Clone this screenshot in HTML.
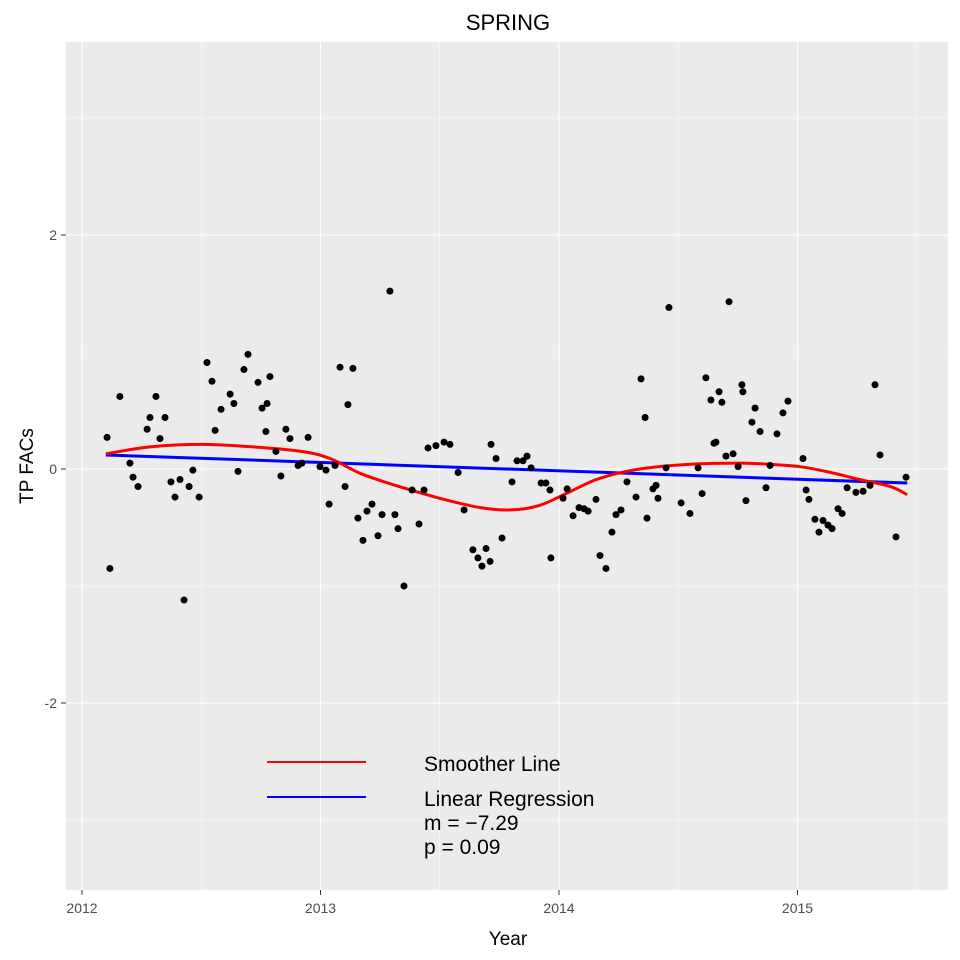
<!DOCTYPE html>
<html><head><meta charset="utf-8"><style>
body{margin:0;background:#fff}
svg{display:block;font-family:"Liberation Sans",Arial,sans-serif}
</style></head><body>
<svg id="chart" width="960" height="960" xmlns="http://www.w3.org/2000/svg">
<text x="508" y="30" font-size="22" text-anchor="middle">SPRING</text>
<rect x="66" y="42" width="882" height="848" fill="#ebebeb"/>
<g id="grid"></g>
<g id="series"></g>
<g id="points"></g>
<g id="axes"></g>
<text x="508" y="945" font-size="19" text-anchor="middle">Year</text>
<text transform="translate(33,466) rotate(-90)" font-size="19" text-anchor="middle">TP FACs</text>
<g>
<line x1="267" y1="762" x2="366" y2="762" stroke="#ff0000" stroke-width="2"/>
<line x1="267" y1="797" x2="366" y2="797" stroke="#0000ff" stroke-width="2"/>
<text x="424" y="771" font-size="21">Smoother Line</text>
<text x="424" y="806" font-size="21">Linear Regression</text>
<text x="424" y="830" font-size="21">m = −7.29</text>
<text x="424" y="854" font-size="21">p = 0.09</text>
</g>
</svg>
<script>
const xTicks=[2012,2013,2014,2015];
const yTicks=[-2,0,2];
const pxRaw=[107,110,120,130,133,138,147,150,156,160,165,171,175,180,184,189,193,199,207,212,215,221,230,234,238,244,248,258,262,267,270,266,276,281,286,290,298,302,308,320,326,329,335,340,345,348,353,358,363,367,372,378,382,390,395,398,404,412,419,424,428,436,444,450,458,464,473,478,482,486,490,491,496,502,512,517,523,527,531,541,546,550,551,563,567,573,579,584,588,596,600,606,612,616,621,627,636,641,645,647,653,656,658,666,669,681,690,698,702,706,711,714,716,719,722,726,729,733,738,742,743,746,752,755,760,766,770,777,783,788,803,806,809,815,819,823,828,832,838,842,847,856,863,870,875,880,896,906];
const pyRaw=[437,569,396,463,477,486,429,417,397,438,418,482,497,479,600,486,470,497,362,381,430,409,394,403,471,369,354,382,408,404,376,432,451,476,429,438,465,463,437,467,470,504,466,367,486,405,368,518,540,511,504,536,515,291,515,529,586,490,524,490,448,446,442,444,472,510,550,558,566,549,562,444,459,538,482,461,461,456,468,483,483,490,558,498,489,516,508,509,511,499,555,569,532,515,510,482,497,379,418,518,489,485,498,468,307,503,514,468,494,378,400,443,442,392,402,456,302,454,467,385,392,501,422,408,432,488,465,434,413,401,458,490,500,519,532,521,525,529,509,513,488,492,491,485,385,455,537,477];
const years=pxRaw.map(p=>+(2012+(p-82)/238.5).toFixed(3));
const values=pyRaw.map(p=>+((469-p)/117).toFixed(2));
const smoothYears=[2012.1,2012.29,2012.5,2012.71,2012.92,2013.04,2013.17,2013.33,2013.5,2013.67,2013.8,2013.92,2014.05,2014.17,2014.34,2014.55,2014.76,2014.88,2015.01,2015.14,2015.26,2015.39,2015.46];
const smoothValues=[0.13,0.19,0.21,0.19,0.15,0.09,-0.04,-0.15,-0.25,-0.33,-0.35,-0.31,-0.19,-0.08,0.0,0.04,0.05,0.04,0.02,-0.03,-0.09,-0.15,-0.22];
const regStart=[2012.1,0.12];
const regEnd=[2015.46,-0.12];

const X=v=>82+(v-2012)*238.5;
const Y=v=>469-v*117;
const NS="http://www.w3.org/2000/svg";
function mk(tag,parent,attrs){const e=document.createElementNS(NS,tag);for(const k in attrs)e.setAttribute(k,attrs[k]);document.getElementById(parent).appendChild(e);return e;}

xTicks.forEach((t,i)=>{
  const l=mk('line','grid',{x1:X(t),x2:X(t),y1:42,y2:890,stroke:'#fff','stroke-width':1.1});
  
  
  const m=mk('line','grid',{x1:X(t+0.5),x2:X(t+0.5),y1:42,y2:890,stroke:'#fff','stroke-width':0.5});
  
  
  const tk=mk('line','axes',{x1:X(t),x2:X(t),y1:890,y2:895,stroke:'#333'});
  
  
  const tx=mk('text','axes',{x:X(t),y:913,'font-size':14,'text-anchor':'middle',fill:'#4d4d4d'});
  tx.textContent=t;
  
  
});
[-3,-1,1,3].forEach(t=>{
  const m=mk('line','grid',{x1:66,x2:948,y1:Y(t),y2:Y(t),stroke:'#fff','stroke-width':0.5});
  
  
});
yTicks.forEach(t=>{
  const l=mk('line','grid',{x1:66,x2:948,y1:Y(t),y2:Y(t),stroke:'#fff','stroke-width':1.1});
  
  
  const tk=mk('line','axes',{x1:61,x2:66,y1:Y(t),y2:Y(t),stroke:'#333'});
  
  
  const tx=mk('text','axes',{x:57,y:Y(t)+5,'font-size':14,'text-anchor':'end',fill:'#4d4d4d'});
  tx.textContent=t;
  
  
});
years.forEach((yr,i)=>{
  const c=mk('circle','points',{cx:X(yr),cy:Y(values[i]),r:3.5,fill:'#000'});
  
  
});
const reg=mk('line','series',{x1:X(regStart[0]),y1:Y(regStart[1]),x2:X(regEnd[0]),y2:Y(regEnd[1]),stroke:'#0000ff','stroke-width':3});


const P=smoothYears.map((yr,i)=>[X(yr),Y(smoothValues[i])]);
let d='M'+P[0][0].toFixed(1)+','+P[0][1].toFixed(1);
for(let i=0;i<P.length-1;i++){
  const p0=P[i-1]||P[i],p1=P[i],p2=P[i+1],p3=P[i+2]||P[i+1];
  const c1=[p1[0]+(p2[0]-p0[0])/6,p1[1]+(p2[1]-p0[1])/6];
  const c2=[p2[0]-(p3[0]-p1[0])/6,p2[1]-(p3[1]-p1[1])/6];
  d+='C'+c1[0].toFixed(1)+','+c1[1].toFixed(1)+' '+c2[0].toFixed(1)+','+c2[1].toFixed(1)+' '+p2[0].toFixed(1)+','+p2[1].toFixed(1);
}
const sm=mk('path','series',{d:d,fill:'none',stroke:'#ff0000','stroke-width':3,'stroke-linejoin':'round'});


</script>
</body></html>
